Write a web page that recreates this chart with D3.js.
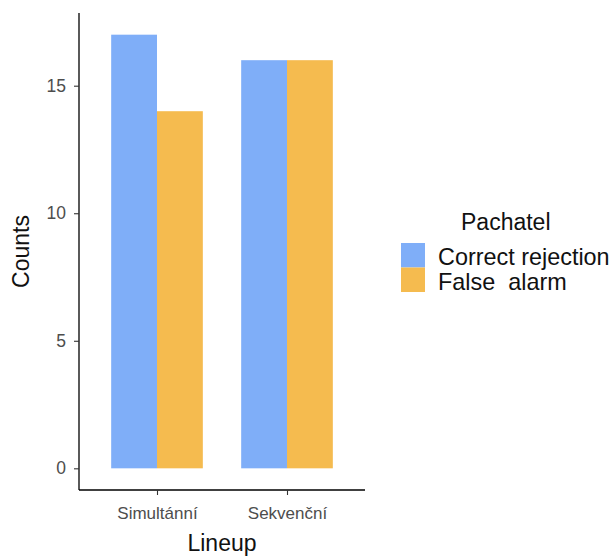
<!DOCTYPE html>
<html><head><meta charset="utf-8">
<script src="https://cdn.jsdelivr.net/npm/d3@7"></script>
<style>body{margin:0;background:#fff}text{font-family:"Liberation Sans",Arial,sans-serif}</style>
</head><body>
<svg id="c" width="614" height="556"></svg>
<script>
const categories = ["Simultánní", "Sekvenční"];
const groups = ["Correct rejection", "False  alarm"];
const correctRejection = [17, 16];
const falseAlarm = [14, 16];
const yTicks = [0, 5, 10, 15];
const colors = ["#7faef8", "#f5bb4f"];
const series = [correctRejection, falseAlarm];

const svg = d3.select("#c");
const x0 = 79, x1 = 365, yTop = 13, yBot = 490;
const yMax = d3.max(series.flat());
const y = d3.scaleLinear().domain([-0.05 * yMax, yMax * 1.05]).range([yBot, yTop]);
const x = d3.scaleLinear().domain([0.4, categories.length + 0.6]).range([x0, x1]);
const barW = 0.705;

const data = [];
categories.forEach((c, i) => series.forEach((s, j) => data.push({cat: i, grp: j, v: s[i]})));

svg.append("g").selectAll("rect").data(data).join("rect")
  .attr("x", d => x(d.cat + 1 - barW / 2 + d.grp * barW / 2))
  .attr("width", x(barW / 2) - x(0))
  .attr("y", d => y(d.v))
  .attr("height", d => y(0) - y(d.v))
  .attr("fill", d => colors[d.grp]);

const ya = svg.append("g").attr("transform", `translate(${x0},0)`)
  .call(d3.axisLeft(y).tickValues(yTicks).tickSize(5).tickPadding(8));
ya.select(".domain").attr("d", `M0,${yTop}V${yBot}`).attr("stroke", "#000").attr("stroke-width", 1.3);
ya.selectAll(".tick line").attr("stroke", "#333").attr("stroke-width", 1.1);
ya.selectAll(".tick text").attr("font-size", 17.5).attr("fill", "#4d4d4d").attr("font-family", "Liberation Sans, Arial, sans-serif");

const xa = svg.append("g").attr("transform", `translate(0,${yBot})`)
  .call(d3.axisBottom(x).tickValues(categories.map((c, i) => i + 1)).tickFormat((d) => categories[d - 1]).tickSize(5).tickPadding(12));
xa.select(".domain").attr("d", `M${x0},0H${x1}`).attr("stroke", "#000").attr("stroke-width", 1.3);
xa.selectAll(".tick line").attr("stroke", "#333").attr("stroke-width", 1.1);
xa.selectAll(".tick text").attr("font-size", 17).attr("fill", "#4d4d4d").attr("font-family", "Liberation Sans, Arial, sans-serif");

svg.append("text").attr("x", x(1.5)).attr("y", 551).attr("text-anchor", "middle")
  .attr("font-size", 23).attr("fill", "#111").text("Lineup");
svg.append("text").attr("transform", `translate(29,${(yTop + yBot) / 2}) rotate(-90)`).attr("text-anchor", "middle")
  .attr("font-size", 23).attr("fill", "#111").text("Counts");

const lg = svg.append("g");
lg.append("text").attr("x", 461).attr("y", 230).attr("font-size", 23).attr("fill", "#111").text("Pachatel");
groups.forEach((g, j) => {
  lg.append("rect").attr("x", 401).attr("y", 243 + j * 24.5).attr("width", 24).attr("height", 24.5).attr("fill", colors[j]);
  lg.append("text").attr("x", 438).attr("y", 265 + j * 24.5).attr("font-size", 23.4).attr("fill", "#111")
    .attr("xml:space", "preserve").style("white-space", "pre").text(g);
});
</script>
</body></html>
